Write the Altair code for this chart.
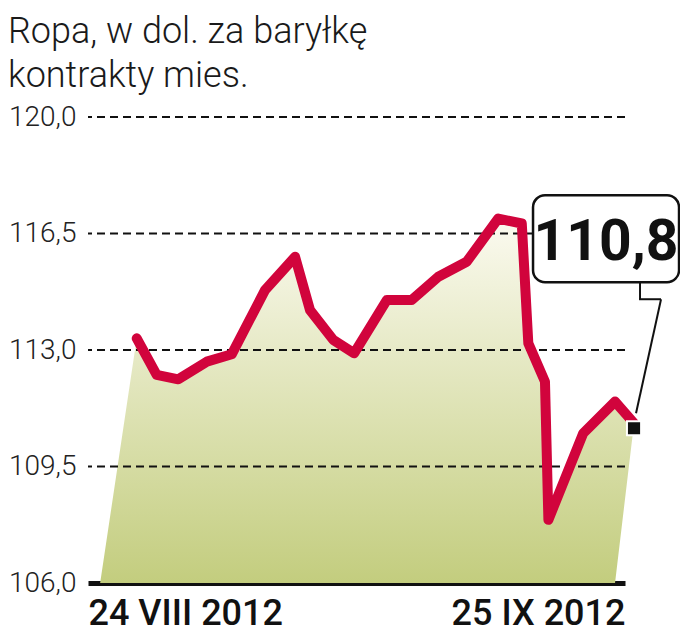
import altair as alt
import pandas as pd

# ---- data ----
day = [0, 1.28, 2.67, 4.50, 6.10, 8.24, 10.17, 11.13, 12.63, 13.96, 16.06,
       17.66, 19.37, 21.19, 23.22, 24.73, 25.15, 26.22, 26.44, 28.68, 30.72, 31.94]
price = [113.35, 112.25, 112.12, 112.65, 112.87, 114.8, 115.8, 114.2, 113.3,
         112.9, 114.5, 114.5, 115.2, 115.65, 116.95, 116.8, 113.2, 112.05,
         107.9, 110.5, 111.45, 110.8]
x_labels = ["24 VIII 2012", "25 IX 2012"]
x_domain = [-3.13, 31.36]
y_domain = [106.0, 120.0]
y_ticks = [106.0, 109.5, 113.0, 116.5, 120.0]
grid_values = [109.5, 113.0, 116.5, 120.0]
area_foot = [-2.35, 30.72]
last_label = "110,8"
title_lines = ["Ropa, w dol. za baryłkę", "kontrakty mies."]

# ---- tables ----
line_df = pd.DataFrame({"day": day, "price": price, "order": list(range(1, len(day) + 1))})
poly_df = pd.concat([
    pd.DataFrame({"day": [area_foot[0]], "price": [y_domain[0]], "order": [0]}),
    line_df,
    pd.DataFrame({"day": [area_foot[1]], "price": [y_domain[0]], "order": [len(day) + 1]}),
], ignore_index=True)
grid_df = pd.DataFrame({"price": grid_values})
last_df = pd.DataFrame({"day": [day[-1]], "price": [price[-1]], "label": [last_label]})

mid = (x_domain[0] + x_domain[1]) / 2
xscale = alt.Scale(domain=x_domain, nice=False, zero=False)
yscale = alt.Scale(domain=y_domain, nice=False, zero=False)

x_axis = alt.Axis(
    values=x_domain, title=None, grid=False, ticks=False,
    labelExpr=f"datum.value < {mid} ? '{x_labels[0]}' : '{x_labels[1]}'",
    labelFlush=True, labelFont="Roboto", labelFontWeight=500, labelFontSize=36,
    labelColor="#111", labelPadding=13, labelLimit=400, labelOverlap=False,
    domain=True, domainColor="#111", domainWidth=5,
)
y_axis = alt.Axis(
    values=y_ticks, title=None, grid=False, ticks=False, domain=False,
    labelExpr="replace(format(datum.value, '.1f'), '.', ',')",
    labelFont="Roboto", labelFontWeight=300, labelFontSize=28, labelColor="#222",
    labelPadding=12,
)

X = alt.X("day:Q", scale=xscale, axis=x_axis)
Y = alt.Y("price:Q", scale=yscale, axis=y_axis)

fill = alt.Gradient(
    gradient="linear",
    stops=[alt.GradientStop(color="#fbfaf0", offset=0),
           alt.GradientStop(color="#c3cd7e", offset=1)],
    x1=1, x2=1, y1=0, y2=1,
)

area = alt.Chart(poly_df).mark_line(fill=fill, strokeWidth=0, stroke="transparent").encode(
    x=X, y=Y, order="order:Q"
)

grid = alt.Chart(grid_df).mark_rule(color="#111", strokeWidth=2, strokeDash=[8, 5]).encode(y=Y)

line = alt.Chart(line_df).mark_line(
    color="#d1043c", strokeWidth=10, strokeCap="round", strokeJoin="round"
).encode(x=X, y=Y, order="order:Q")

base_last = alt.Chart(last_df)
box = base_last.mark_rect(
    xOffset=-101, x2Offset=45, yOffset=-228, y2Offset=-141,
    cornerRadius=12, fill="white", stroke="#111", strokeWidth=2.5
).encode(x=X, x2="day", y=Y, y2="price")

p1 = base_last.mark_rule(color="#111", strokeWidth=2, xOffset=6, x2Offset=6,
                         yOffset=-141, y2Offset=-124).encode(x=X, x2="day", y=Y, y2="price")
p2 = base_last.mark_rule(color="#111", strokeWidth=2, xOffset=5, x2Offset=27,
                         yOffset=-124, y2Offset=-124).encode(x=X, x2="day", y=Y, y2="price")
p3 = base_last.mark_rule(color="#111", strokeWidth=2, xOffset=27, x2Offset=2,
                         yOffset=-124, y2Offset=-10).encode(x=X, x2="day", y=Y, y2="price")

txt = base_last.mark_text(
    font="Roboto", fontWeight="bold", fontSize=57,
    align="center", baseline="alphabetic", dx=-28, dy=-163, color="#111"
).encode(x=X, y=Y, text="label:N")

marker = base_last.mark_square(
    size=200, fill="#111", stroke="white", strokeWidth=2, opacity=1, yOffset=5
).encode(x=X, y=Y)

chart = alt.layer(area, grid, line, box, p1, p2, p3, txt, marker).properties(
    width=537, height=466,
    autosize=alt.AutoSizeParams(type="none"),
    padding={"left": 80, "top": 109, "right": 55, "bottom": 49},
    background="white",
    title=alt.TitleParams(
        title_lines, anchor="start", frame="group", dx=-80,
        font="Roboto", fontWeight=300, fontSize=36,
        lineHeight=44, color="#1a1a1a", offset=8,
    ),
).configure_view(strokeWidth=0, stroke="transparent")

chart.save("out.html", embed_options={"renderer": "svg", "actions": False})
